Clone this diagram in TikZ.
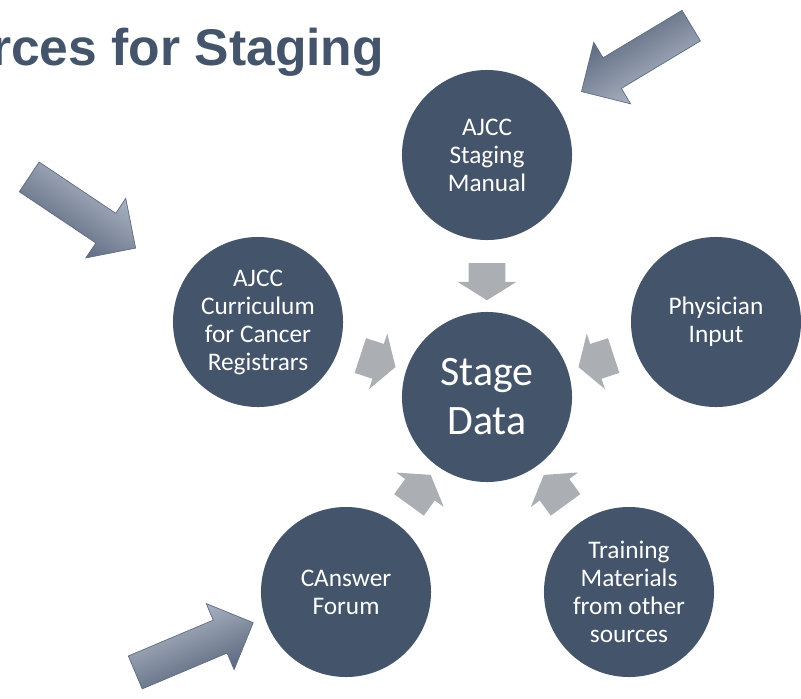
\documentclass[tikz,border=0pt]{standalone}
\usepackage{fontspec}
\setmainfont{Carlito}
\newfontfamily\headfont{Liberation Sans}
\usepackage{tikz}
\usetikzlibrary{shapes.arrows}

\definecolor{slate}{HTML}{44546A}
\definecolor{flowgray}{HTML}{ABAEB2}
\definecolor{bigdark}{HTML}{4E5B73}
\definecolor{biglight}{HTML}{BAC2CF}
\definecolor{bigline}{HTML}{5F6C82}

\begin{document}
\begin{tikzpicture}[
    x=0.025cm, y=-0.025cm,
    src/.style={circle, fill=slate, text=white, minimum size=4.25cm,
                inner sep=0pt, align=center,
                font=\fontsize{18}{19.9}\selectfont},
    hub/.style={src, font=\fontsize{29.8}{34.9}\selectfont},
    flow/.style={single arrow, fill=flowgray, inner xsep=0pt, inner ysep=0.45cm,
                 minimum height=0.925cm,
                 single arrow head extend=0.275cm, single arrow tip angle=116},
    pointer/.style={single arrow, draw=bigline, line width=0.5pt,
                    top color=biglight, bottom color=bigdark,
                    shading angle=#1, rotate=#1,
                    inner xsep=0pt, inner ysep=0.4375cm, minimum height=3.2cm,
                    single arrow head extend=0.45cm}
]
\useasboundingbox (0,0) rectangle (801,698);

% heading, cut at the left edge
\node[anchor=base east, text=slate,
      font=\headfont\bfseries\fontsize{36.7}{44}\selectfont] (title) at (389,65) {rces for Staging};

% sources around the hub
\node[hub] (stage)    at (487,397) {Stage\\Data};
\node[src] (manual)   at (487,155) {AJCC\\Staging\\Manual};
\node[src] (curric)   at (258,322) {AJCC\\Curriculum\\for Cancer\\Registrars};
\node[src] (phys)     at (716,322) {Physician\\Input};
\node[src] (canswer)  at (346,592) {CAnswer\\Forum};
\node[src] (training) at (629,592) {Training\\Materials\\from other\\sources};

% small arrows into the hub
\path (manual)   -- (stage) node[midway, sloped, allow upside down, flow] (f1) {};
\path (curric)   -- (stage) node[midway, sloped, allow upside down, flow] (f2) {};
\path (phys)     -- (stage) node[midway, sloped, allow upside down, flow] (f3) {};
\path (canswer)  -- (stage) node[midway, sloped, allow upside down, flow] (f4) {};
\path (training) -- (stage) node[midway, sloped, allow upside down, flow] (f5) {};

% big pointers (shading turned with the arrow)
\node[pointer=211]   (p1) at (644,54)    {};
\node[pointer=-33.8] (p2) at (75,207.5)  {};
\node[pointer=22.9]  (p3) at (186,651)   {};
\end{tikzpicture}
\end{document}
